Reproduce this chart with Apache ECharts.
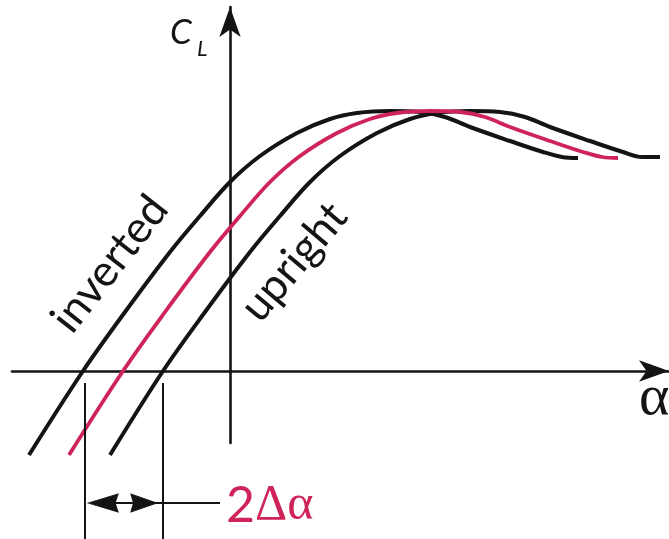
<!DOCTYPE html>
<html>
<head>
<meta charset="utf-8">
<script src="https://cdn.jsdelivr.net/npm/echarts@6/dist/echarts.min.js"></script>
<style>
  html, body { margin: 0; padding: 0; background: #ffffff; }
  #chart { width: 669px; height: 539px; }
</style>
</head>
<body>
<div id="chart"></div>
<script>
// Lift curve C_L(alpha) of the wing mounted inverted (stalls early)
const invertedCurve = [
  [-20.1, -0.84], [-14.7, 0.00], [-10.5, 0.59], [-6.0, 1.19], [-3.0, 1.55],
  [0.0, 1.89], [3.0, 2.15], [6.7, 2.38], [10.0, 2.52], [12.7, 2.58],
  [16.0, 2.60], [19.0, 2.59], [21.5, 2.54], [24.0, 2.44], [28.0, 2.30],
  [31.3, 2.19], [33.2, 2.14], [34.8, 2.13]
];
// Lift curve of the wing mounted upright
const uprightCurve = [
  [-12.0, -0.84], [-6.7, 0.00], [-2.5, 0.59], [2.0, 1.19], [5.0, 1.55],
  [8.0, 1.89], [11.0, 2.15], [14.7, 2.38], [18.0, 2.52], [20.7, 2.58],
  [24.0, 2.60], [27.0, 2.59], [29.5, 2.54], [32.0, 2.44], [36.0, 2.30],
  [39.3, 2.19], [41.2, 2.14], [43.0, 2.14]
];
// Corrected curve, half way between the two
const correctedCurve = [
  [-16.1, -0.84], [-10.7, 0.00], [-6.5, 0.59], [-2.0, 1.19], [1.0, 1.55],
  [4.0, 1.89], [7.0, 2.15], [10.7, 2.38], [14.0, 2.52], [16.7, 2.58],
  [20.0, 2.60], [23.0, 2.59], [25.5, 2.54], [28.0, 2.44], [32.0, 2.30],
  [35.3, 2.19], [37.2, 2.14], [38.8, 2.13]
];

// Zero-lift angles marked by the 2Δα dimension
const zeroLiftAngles = [-14.5, -6.7];
const dimensionTop = -0.12;
const dimensionBottom = -1.70;
const dimensionLevel = -1.32;
const arrowCentres = [-12.7, -8.6];
const leaderEnd = -1.0;

const BLACK = '#141414';
const RED = '#cf2459';
const SANS = 'Lato, "Noto Sans", sans-serif';

// arrowheads for the dimension line (left- and right-pointing)
const ARROW_LEFT = 'path://M0,9L30,0L27,9L30,18Z';
const ARROW_RIGHT = 'path://M30,9L0,0L3,9L0,18Z';

function curveSeries(name, data, color, width) {
  return {
    name: name,
    type: 'line',
    data: data,
    smooth: 0.35,
    showSymbol: false,
    symbol: 'none',
    clip: false,
    lineStyle: { color: color, width: width, cap: 'butt' },
    silent: true
  };
}

function segment(points, width) {
  return {
    type: 'line',
    data: points,
    showSymbol: false,
    symbol: 'none',
    clip: false,
    silent: true,
    lineStyle: { color: BLACK, width: width }
  };
}

const arrowStyle = { color: BLACK, borderColor: BLACK, borderWidth: 1, opacity: 1 };

const chart = echarts.init(document.getElementById('chart'), null, { renderer: 'canvas' });

chart.setOption({
  animation: false,
  backgroundColor: '#ffffff',
  grid: { left: 12, right: 0, top: 7, bottom: 96, containLabel: false },
  xAxis: {
    type: 'value',
    min: -21.8,
    max: 43.9,
    axisLine: {
      show: true,
      onZero: true,
      symbol: ['none', 'arrow'],
      symbolSize: [16, 30],
      lineStyle: { color: BLACK, width: 2.6 }
    },
    axisTick: { show: false },
    axisLabel: { show: false },
    splitLine: { show: false }
  },
  yAxis: {
    type: 'value',
    min: -0.72,
    max: 3.64,
    axisLine: {
      show: true,
      onZero: true,
      symbol: ['none', 'arrow'],
      symbolSize: [16, 30],
      lineStyle: { color: BLACK, width: 2.6 }
    },
    axisTick: { show: false },
    axisLabel: { show: false },
    splitLine: { show: false }
  },
  series: [
    curveSeries('inverted', invertedCurve, BLACK, 4),
    curveSeries('upright', uprightCurve, BLACK, 4),
    curveSeries('corrected', correctedCurve, RED, 3.8),
    segment([[zeroLiftAngles[0], dimensionTop], [zeroLiftAngles[0], dimensionBottom]], 2),
    segment([[zeroLiftAngles[1], dimensionTop], [zeroLiftAngles[1], dimensionBottom]], 2),
    {
      type: 'line',
      clip: false,
      silent: true,
      showSymbol: true,
      lineStyle: { color: BLACK, width: 2 },
      itemStyle: arrowStyle,
      data: [
        { value: [arrowCentres[0], dimensionLevel], symbol: ARROW_LEFT, symbolSize: [30, 18], symbolKeepAspect: false, itemStyle: arrowStyle },
        { value: [arrowCentres[1], dimensionLevel], symbol: ARROW_RIGHT, symbolSize: [26, 18], symbolKeepAspect: false, itemStyle: arrowStyle },
        { value: [leaderEnd, dimensionLevel], symbol: 'none' }
      ]
    }
  ],
  graphic: [
    {
      type: 'text', x: 110, y: 264, rotation: 52 * Math.PI / 180,
      style: { text: 'inverted', fontFamily: SANS, fontSize: 44, fill: BLACK, align: 'center', verticalAlign: 'middle' }
    },
    {
      type: 'text', x: 294, y: 262, rotation: 50 * Math.PI / 180,
      style: { text: 'upright', fontFamily: SANS, fontSize: 44, fill: BLACK, align: 'center', verticalAlign: 'middle' }
    },
    {
      type: 'text', x: 170, y: 50,
      style: { text: 'C', fontFamily: SANS, fontStyle: 'italic', fontSize: 35, fill: BLACK, align: 'left', verticalAlign: 'bottom' }
    },
    {
      type: 'text', x: 197, y: 60,
      style: { text: 'L', fontFamily: SANS, fontStyle: 'italic', fontSize: 22, fill: BLACK, align: 'left', verticalAlign: 'bottom' }
    },
    {
      type: 'text', x: 639, y: 428,
      style: { text: 'α', fontFamily: '"Liberation Serif", serif', fontSize: 58, fill: BLACK, align: 'left', verticalAlign: 'bottom' }
    },
    {
      type: 'text', x: 226, y: 531,
      style: {
        text: '{n|2}{g|Δα}',
        align: 'left', verticalAlign: 'bottom',
        rich: {
          n: { fontFamily: SANS, fontSize: 50, fill: RED, color: RED },
          g: { fontFamily: '"Liberation Serif", serif', fontSize: 50, fill: RED, color: RED }
        }
      }
    }
  ]
});
</script>
</body>
</html>
